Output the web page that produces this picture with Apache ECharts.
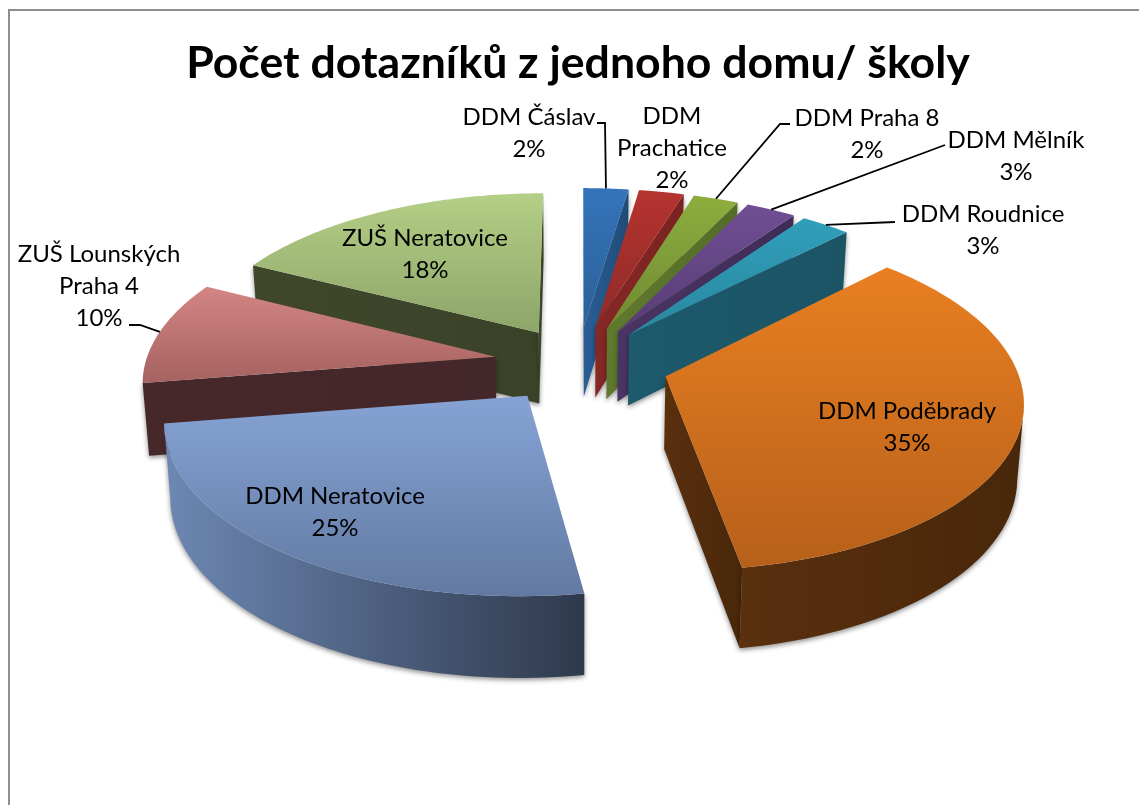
<!DOCTYPE html>
<html><head><meta charset="utf-8">
<style>html,body{margin:0;padding:0;background:#fff}#c{width:1139px;height:805px}</style>
<script src="https://cdn.jsdelivr.net/npm/echarts@6/dist/echarts.min.js"></script>
</head><body><div id="c"></div>
<script>
const titleText = 'Počet dotazníků z jednoho domu/ školy';
const categories = ['DDM Čáslav','DDM\nPrachatice','DDM Praha 8','DDM Mělník','DDM Roudnice','DDM Poděbrady','DDM Neratovice','ZUŠ Lounských\nPraha 4','ZUŠ Neratovice'];
const percents = [2.4,2.4,2.4,2.65,2.65,35,25,10,17.5];

// appearance
const topColors = [['#3474ba','#2b6198'],['#b5332f','#8f2b28'],['#8dae3e','#6f8a33'],['#704e94','#573c75'],['#309fba','#2a87a0'],['#e97f21','#b6601a'],['#86a3d5','#627aa2'],['#d38684','#a56260'],['#b4cf86','#8da569']];
const wallColors = [['#2a5e96','#1f4b78'],['#862825','#7a2321'],['#5f7a2e','#546c28'],['#4a3464','#3f2c56'],['#1c5a6c','#1c5465'],['#5a300e','#48270a'],['#6d88b4','#2e394c'],['#46282b','#44272a'],['#3f472b','#3a4228']];
const explode = [0.23,0.23,0.23,0.23,0.23,0.26,0.24,0.24,0.22];
const drawRank = [2,3,4,5,6,7,8,1,0];
const labelPos = [[529,133],[672,148],[867,134],[1016,156],[983,230],[907,427],[335,512],[99,286],[425,254]];
const leaders = [[[597,123],[605,123]],null,[[790,124],[780,124]],[[945,145]],[[895,222]],null,null,[[129,325],[140,325]],null];

// projection of the tilted pie
const CX=578, CY=363, R=350, K=165, P=0.13, DEPTH=72;
function project(X,Y){const w=1+P*Y;return [CX+R*X/w, CY-K*Y/w, w];}
function lower(p){return [CX+(p[0]-CX)*0.985, p[1]+DEPTH/Math.pow(p[2],0.75)];}
const total = percents.reduce((a,b)=>a+b,0);

function renderItem(params, api){
  const i=params.dataIndex;
  let before=0; for(let k=0;k<i;k++) before+=percents[k];
  const a0=before/total*2*Math.PI, a1=(before+api.value(0))/total*2*Math.PI, am=(a0+a1)/2;
  const ox=explode[i]*Math.sin(am), oy=explode[i]*Math.cos(am);
  const apex=project(ox,oy);
  const arc=[]; const n=64;
  for(let k=0;k<=n;k++){const t=a0+(a1-a0)*k/n;arc.push(project(ox+Math.sin(t),oy+Math.cos(t)));}
  const xy=p=>[p[0],p[1]];
  const vert=c=>({type:'linear',x:0,y:0,x2:0,y2:1,colorStops:[{offset:0,color:c[0]},{offset:1,color:c[1]}]});
  const horiz=c=>({type:'linear',x:0,y:0,x2:1,y2:0,colorStops:[{offset:0,color:c[0]},{offset:1,color:c[1]}]});
  const base=drawRank[i]*10;
  const shadow={shadowBlur:5,shadowColor:'rgba(0,0,0,0.45)',shadowOffsetX:0,shadowOffsetY:2};
  const wall=(pts,z)=>({type:'polygon',z2:base+z,shape:{points:pts},style:Object.assign({fill:horiz(wallColors[i])},shadow)});
  const children=[];
  // a radial wall shows only when the slice lies above its edge
  const mid=arc[n/2];
  [arc[0],arc[n]].forEach(e=>{
    const ex=e[0]-apex[0], ey=e[1]-apex[1];
    const inner=ex*(mid[1]-apex[1])-ey*(mid[0]-apex[0]);
    const down=ex;
    if(inner*down<0) children.push(wall([xy(apex),xy(e),lower(e),lower(apex)],1));
  });
  // the curved wall shows only along the front of the rim
  const front=[];
  for(let k=0;k<=n;k++){
    const prevX=arc[Math.max(k-1,0)][0], nextX=arc[Math.min(k+1,n)][0];
    if(nextX<prevX) front.push(arc[k]);
  }
  if(front.length>1) children.push(wall(front.map(xy).concat(front.slice().reverse().map(lower)),2));
  children.push({type:'polygon',z2:base+5,shape:{points:[xy(apex)].concat(arc.map(xy))},style:{fill:vert(topColors[i])}});
  const pct=Math.round(api.value(0))+'%';
  children.push({type:'text',z2:1000,style:{text:categories[i]+'\n'+pct,x:labelPos[i][0],y:labelPos[i][1],align:'center',verticalAlign:'middle',fontFamily:'Lato',fontSize:24,lineHeight:32,fill:'#000'}});
  if(leaders[i]){
    const tip=xy(project(ox+Math.sin(am),oy+Math.cos(am)));
    children.push({type:'polyline',z2:900,shape:{points:leaders[i].concat([tip])},style:{fill:'none',stroke:'#000',lineWidth:1.8}});
  }
  return {type:'group',children};
}

const chart=echarts.init(document.getElementById('c'),null,{renderer:'canvas'});
chart.setOption({
  animation:false,
  backgroundColor:'#fff',
  title:{text:titleText,left:573,top:36,textAlign:'center',textStyle:{fontFamily:'Lato',fontWeight:'bold',fontSize:44.6,color:'#000'}},
  graphic:[{type:'rect',z:-1,shape:{x:9,y:10,width:1300,height:1000},style:{fill:'none',stroke:'#8e8e8e',lineWidth:2}}],
  series:[{type:'custom',coordinateSystem:'none',renderItem,data:percents.map(v=>[v]),silent:true}]
});
</script></body></html>
